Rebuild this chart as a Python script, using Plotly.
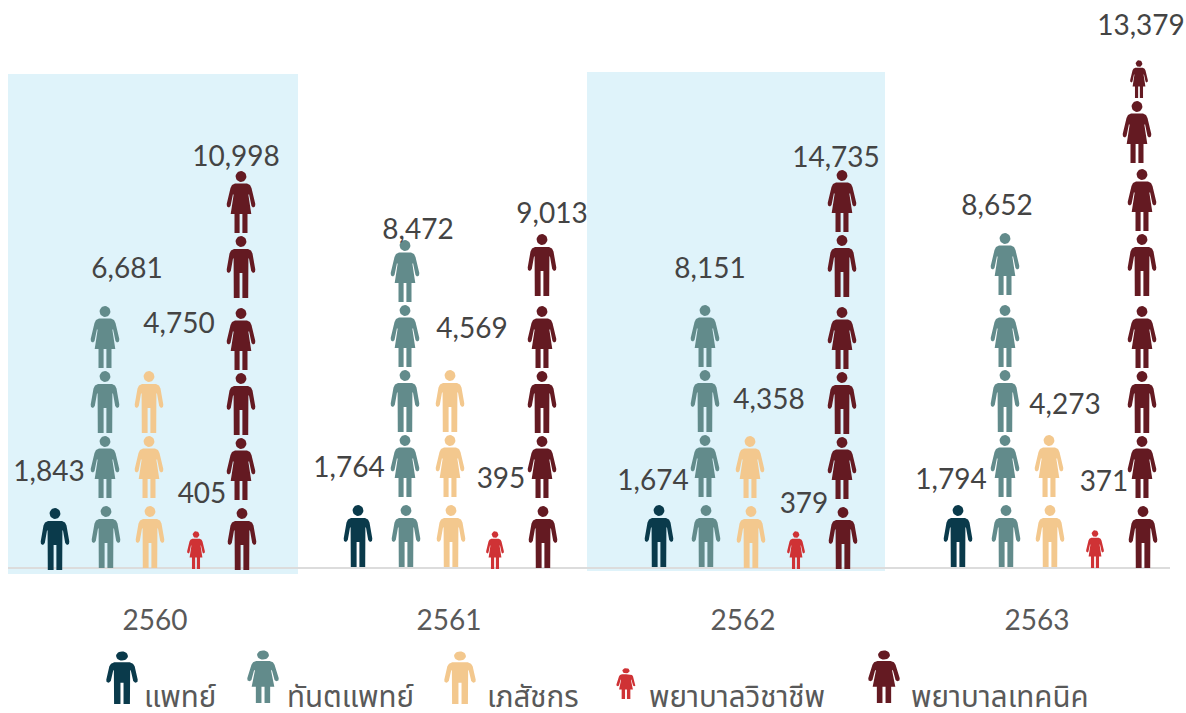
import math
import plotly.graph_objects as go

# ---------- data ----------
years = ["2560", "2561", "2562", "2563"]
doctors = [1843, 1764, 1674, 1794]
dentists = [6681, 8472, 8151, 8652]
pharmacists = [4750, 4569, 4358, 4273]
nurses = [405, 395, 379, 371]
technical_nurses = [10998, 9013, 14735, 13379]
category_names = ["แพทย์", "ทันตแพทย์", "เภสัชกร", "พยาบาลวิชาชีพ", "พยาบาลเทคนิค"]

# pictogram stacks, bottom to top: M = man, F = woman, f = small woman
doctor_icons = ["M", "M", "M", "M"]
dentist_icons = ["MFMF", "MFMFF", "MFMF", "MFMFF"]
pharmacist_icons = ["MFM", "MFM", "MF", "MF"]
nurse_icons = ["f", "f", "f", "f"]
technical_icons = ["MFMFMF", "MFMFM", "MFMFMF", "MFMFMFFf"]

# ---------- layout / style ----------
COLORS = ["#0a3a4b", "#628b8b", "#f3c88e", "#cf3235", "#641a22"]
BAND = "#dff3fa"
FONT = "Lato, 'Noto Sans Thai', 'Noto Sans', sans-serif"
W, H = 1186, 713
LEFT, RIGHT = 8, 1170
BASE_PX = 568
CAT_PX = 294.0            # pixels per year on the axis
ROW_STEP = [0, 70, 135, 200, 272, 337, 405, 470]

stack_px = [[55, 106, 150, 196, 242],
            [358, 406, 451, 495, 543],
            [659, 706, 751, 796, 843],
            [958, 1006, 1050, 1095, 1143]]
stack_lift = [[-2, 0, 0, -1, -2],
              [1, 1, 1, -1, 0],
              [1, 1, 0, -1, -1],
              [1, 1, 1, 0, 0]]
label_px = [[(49, 474), (127, 271), (179, 326), (202, 496), (236, 159)],
            [(349, 470), (418, 232), (472, 331), (501, 481), (552, 216)],
            [(653, 483), (710, 271), (769, 402), (804, 506), (836, 160)],
            [(951, 482), (997, 208), (1065, 407), (1104, 484), (1141, 28)]]
legend_icon = [(122, 704, "M", 1.1, .85), (263, 703, "F", 1.1, .85), (460, 704, "M", 1.1, .85),
               (626, 699, "F", .67, .5), (884, 703, "F", 1.1, .85)]
legend_text_x = [144, 287, 487, 649, 911]
LEGEND_Y = 700


def X(px):
    return (px - LEFT) / CAT_PX - 0.5


def Y(px):
    return BASE_PX - px


# icon outlines: right half, pixels from the feet centre, drawn mirrored
MAN = [(0, 49), (7, 49), (10, 47.5), (11.5, 44.5), (14.3, 28.5), (14, 26), (12, 25), (10.2, 27),
       (7.9, 40), (7.4, 39), (7.2, 0), (1.4, 0), (1.4, 25), (0, 25)]
WOMAN = [(0, 49.5), (6, 49.5), (9, 48), (10.5, 45), (14.3, 29), (14, 26.5), (12, 25.5), (10.5, 27),
         (8, 39), (7.4, 38), (10.3, 19), (6.5, 19), (6.5, 0), (1.4, 0), (1.4, 19), (0, 19)]
HEAD_Y, HEAD_R = 56.5, 5.4


def icon_path(cx, bottom, kind, sx=1.0, sy=1.0):
    half = MAN if kind == "M" else WOMAN
    pts = half + [(-a, b) for a, b in reversed(half)]
    xs = [cx + a * sx for a, b in pts]
    ys = [bottom + b * sy for a, b in pts]
    xs, ys = xs + [xs[0], None], ys + [ys[0], None]
    for i in range(25):
        t = 2 * math.pi * i / 24
        xs.append(cx + HEAD_R * sx * math.cos(t))
        ys.append(bottom + (HEAD_Y + HEAD_R * math.sin(t)) * sy)
    return [None if v is None else X(v) for v in xs] + [None], ys + [None]


fig = go.Figure()

all_icons = [doctor_icons, dentist_icons, pharmacist_icons, nurse_icons, technical_icons]
all_values = [doctors, dentists, pharmacists, nurses, technical_nurses]

for c, name in enumerate(category_names):
    xs, ys = [], []
    for g in range(len(years)):
        for row, kind in enumerate(all_icons[c][g]):
            cx = stack_px[g][c] - (1 if row else 0)
            bottom = stack_lift[g][c] + ROW_STEP[row]
            sx = sy = 1.0
            if kind == "f":
                kind, sx, sy = "F", .62, .61
                if c != 3:
                    cx -= 3
            elif row >= 6:
                cx -= 5
            if c == 1 and g == 1 and row == 4:
                bottom -= 7
            px_, py_ = icon_path(cx, bottom, kind, sx, sy)
            xs += px_
            ys += py_
    # legend glyph, drawn with the series
    lx, lb, lk, lsx, lsy = legend_icon[c]
    px_, py_ = icon_path(lx, Y(lb), lk, lsx, lsy)
    xs += px_
    ys += py_
    fig.add_trace(go.Scatter(x=xs, y=ys, mode="lines", fill="toself", fillcolor=COLORS[c],
                             line=dict(width=0, color=COLORS[c]), name=name, hoverinfo="name",
                             connectgaps=False))

for c, name in enumerate(category_names):
    fig.add_trace(go.Scatter(
        x=[X(label_px[g][c][0]) for g in range(len(years))],
        y=[Y(label_px[g][c][1]) for g in range(len(years))],
        mode="text", text=[f"{v:,}" for v in all_values[c]], textposition="middle center",
        textfont=dict(family=FONT, size=28, color="#444444"), cliponaxis=False,
        hoverinfo="skip"))

fig.add_trace(go.Scatter(
    x=[X(v) for v in legend_text_x], y=[Y(LEGEND_Y)] * 5, mode="text", text=category_names,
    textposition="middle right", textfont=dict(family=FONT, size=29.5, color="#595959"),
    cliponaxis=False, hoverinfo="skip"))

shapes = [dict(type="rect", layer="below", line_width=0, fillcolor=BAND,
               x0=X(8), x1=X(298), y0=Y(574), y1=Y(74)),
          dict(type="rect", layer="below", line_width=0, fillcolor=BAND,
               x0=X(587), x1=X(885), y0=Y(571), y1=Y(72))]

fig.update_layout(
    width=W, height=H, autosize=False, showlegend=False, paper_bgcolor="white", plot_bgcolor="rgba(0,0,0,0)",
    margin=dict(l=LEFT, r=W - RIGHT, t=0, b=0, pad=0), shapes=shapes,
    xaxis=dict(range=[-0.5, X(RIGHT)], tickmode="array", tickvals=[0, 1, 2, 3], ticktext=years,
               showgrid=False, zeroline=False, anchor="free", position=(H - BASE_PX) / H,
               showline=True, linecolor="#dcdcdc", linewidth=2, ticks="outside", ticklen=27,
               tickcolor="rgba(0,0,0,0)", tickfont=dict(family=FONT, size=28, color="#595959"),
               layer="below traces", fixedrange=True),
    yaxis=dict(range=[BASE_PX - H, BASE_PX], domain=[0, 1], visible=False, fixedrange=True),
)

fig.write_html("out.html", config={"displayModeBar": False},
               post_script="document.body.style.margin='0';document.documentElement.style.overflow='hidden';")
